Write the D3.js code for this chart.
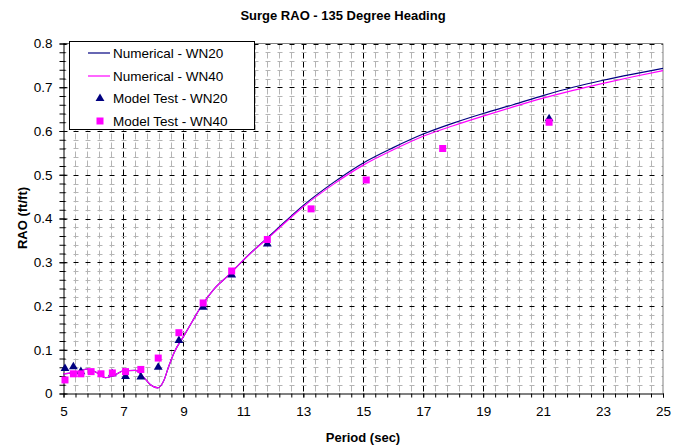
<!DOCTYPE html>
<html><head><meta charset="utf-8">
<script src="https://cdn.jsdelivr.net/npm/d3@7"></script>
<style>
body{margin:0;background:#fff;}
text{font-family:"Liberation Sans",Arial,sans-serif;}
</style></head>
<body><svg id="c" width="687" height="448"></svg>
<script>
// ---- data ----
const numPeriods = [5, 5.5, 5.8, 6.1, 6.4, 6.7, 7.0, 7.4, 7.7, 7.9, 8.15, 8.35, 8.5, 8.7, 9.0, 9.3, 9.6, 10, 10.5, 11, 12, 13, 14, 15, 16, 17, 18, 19, 20, 21, 22, 23, 24, 25];
const numWN20 = [0.045, 0.05, 0.056, 0.048, 0.036, 0.042, 0.052, 0.053, 0.035, 0.02, 0.013, 0.03, 0.06, 0.095, 0.13, 0.165, 0.2, 0.237, 0.27, 0.305, 0.368, 0.43, 0.482, 0.527, 0.562, 0.593, 0.618, 0.64, 0.66, 0.681, 0.70, 0.716, 0.73, 0.743];
const numWN40 = [0.045, 0.05, 0.056, 0.048, 0.036, 0.042, 0.052, 0.053, 0.035, 0.02, 0.013, 0.03, 0.06, 0.095, 0.13, 0.165, 0.2, 0.237, 0.27, 0.305, 0.366, 0.427, 0.478, 0.522, 0.557, 0.588, 0.612, 0.634, 0.655, 0.675, 0.693, 0.709, 0.724, 0.738];
const testWN20T = [5.05, 5.33, 5.58, 6.63, 7.07, 7.58, 8.16, 8.85, 9.66, 10.61, 11.8, 21.2];
const testWN20V = [0.057, 0.061, 0.05, 0.045, 0.039, 0.038, 0.06, 0.121, 0.197, 0.271, 0.342, 0.628];
const testWN40T = [5.05, 5.33, 5.58, 5.92, 6.25, 6.63, 7.07, 7.58, 8.16, 8.85, 9.66, 10.61, 11.8, 13.26, 15.1, 17.65, 21.2];
const testWN40V = [0.031, 0.045, 0.045, 0.05, 0.045, 0.047, 0.05, 0.055, 0.081, 0.139, 0.207, 0.28, 0.352, 0.422, 0.488, 0.56, 0.62];
const xTicks = [5, 7, 9, 11, 13, 15, 17, 19, 21, 23, 25];
const yTicks = [0, 0.1, 0.2, 0.3, 0.4, 0.5, 0.6, 0.7, 0.8];
const legendLabels = ["Numerical - WN20", "Numerical - WN40", "Model Test - WN20", "Model Test - WN40"];
const colors = {wn20: "#000080", wn40: "#ff00ff"};

const svg = d3.select("#c");
const L = 63.5, R = 663, T = 43.5, B = 393.5;
const x = d3.scaleLinear().domain([5, 25]).range([L, R]);
const y = d3.scaleLinear().domain([0, 0.8]).range([B, T]);

// grid
const g = svg.append("g");
const xMinor = d3.range(0, 51).map(i => 5 + i * 0.4);
const yMinor = d3.range(0, 41).map(i => i * 0.02);
xMinor.forEach((v, i) => {
  if (i === 0 || i === 50) return;
  const major = i % 5 === 0;
  g.append("line").attr("x1", Math.round(x(v)) + 0.5).attr("x2", Math.round(x(v)) + 0.5)
    .attr("y1", T).attr("y2", B)
    .attr("stroke", major ? "#000" : "#b4b4b4").attr("stroke-width", 1)
    .attr("stroke-dasharray", "6,3");
});
yMinor.forEach((v, i) => {
  if (i === 0) return;
  const major = i % 5 === 0;
  g.append("line").attr("y1", Math.round(y(v)) + 0.5).attr("y2", Math.round(y(v)) + 0.5)
    .attr("x1", L).attr("x2", R)
    .attr("stroke", major ? "#000" : "#b4b4b4").attr("stroke-width", 1)
    .attr("stroke-dasharray", "5,7").attr("stroke-dashoffset", 2);
});
// plot border (top/right gray)
svg.append("path").attr("d", `M${L},${T}H${R}V${B}`).attr("fill", "none").attr("stroke", "#808080");

// axes
const xAxis = svg.append("g").attr("transform", `translate(0,${B})`)
  .call(d3.axisBottom(x).tickValues(xTicks).tickFormat(d3.format("d")).tickSize(4).tickPadding(9));
svg.append("g").attr("transform", `translate(0,${B})`)
  .call(d3.axisBottom(x).tickValues(xMinor).tickFormat("").tickSize(4))
  .call(a => a.select(".domain").remove());
const yAxis = svg.append("g").attr("transform", `translate(${L},0)`)
  .call(d3.axisLeft(y).tickValues(yTicks).tickFormat(d => d === 0 ? "0" : d3.format(".1f")(d)).tickSize(4).tickPadding(7));
yAxis.selectAll(".tick line").attr("x2", 4).attr("x1", -4);
svg.append("g").attr("transform", `translate(${L},0)`)
  .call(d3.axisLeft(y).tickValues(yMinor).tickFormat("").tickSize(4))
  .call(a => a.select(".domain").remove())
  .selectAll(".tick line").attr("x1", -4).attr("x2", 2);
svg.selectAll(".domain").attr("stroke", "#000");
xAxis.select(".domain").attr("d", `M${L},0.5H${R}`);
yAxis.select(".domain").attr("d", `M0.5,${T}V${B}`);
svg.selectAll(".tick text").attr("font-family", "Liberation Sans, Arial, sans-serif").attr("font-size", 13.5).attr("fill", "#000");
svg.selectAll(".tick line").attr("stroke", "#000");

// lines
const line = d3.line().curve(d3.curveMonotoneX);
svg.append("path").attr("d", line(numPeriods.map((p, i) => [x(p), y(numWN20[i])])))
  .attr("fill", "none").attr("stroke", colors.wn20).attr("stroke-width", 1.2);
svg.append("path").attr("d", line(numPeriods.map((p, i) => [x(p), y(numWN40[i])])))
  .attr("fill", "none").attr("stroke", colors.wn40).attr("stroke-width", 1.2);

// markers
const tri = d3.symbol().type(d3.symbolTriangle).size(34);
svg.append("g").selectAll("path").data(testWN20T).join("path")
  .attr("d", tri).attr("transform", (d, i) => `translate(${x(d)},${y(testWN20V[i])})`)
  .attr("fill", colors.wn20);
svg.append("g").selectAll("rect").data(testWN40T).join("rect")
  .attr("x", d => x(d) - 3.5).attr("y", (d, i) => y(testWN40V[i]) - 3.5)
  .attr("width", 7).attr("height", 7).attr("fill", colors.wn40);

// legend
const lg = svg.append("g");
lg.append("rect").attr("x", 69.5).attr("y", 41.5).attr("width", 185).attr("height", 88)
  .attr("fill", "#fff").attr("stroke", "#000");
const ly = [53, 76, 98.5, 121];
legendLabels.forEach((t, i) => {
  if (i < 2) {
    lg.append("line").attr("x1", 88).attr("x2", 110).attr("y1", ly[i]).attr("y2", ly[i])
      .attr("stroke", i === 0 ? colors.wn20 : colors.wn40).attr("stroke-width", 1.2);
  } else if (i === 2) {
    lg.append("path").attr("d", tri).attr("transform", `translate(100,${ly[i]})`).attr("fill", colors.wn20);
  } else {
    lg.append("rect").attr("x", 96.5).attr("y", ly[i] - 3.5).attr("width", 7).attr("height", 7).attr("fill", colors.wn40);
  }
  lg.append("text").attr("x", 113).attr("y", ly[i]).attr("dy", "0.35em")
    .attr("font-size", 13.5).text(t);
});

// titles
svg.append("text").attr("x", 343).attr("y", 15).attr("dy", "0.35em").attr("text-anchor", "middle")
  .attr("font-size", 13).attr("font-weight", "bold").text("Surge RAO - 135 Degree Heading");
svg.append("text").attr("x", 363).attr("y", 437).attr("dy", "0.35em").attr("text-anchor", "middle")
  .attr("font-size", 13).attr("font-weight", "bold").text("Period (sec)");
svg.append("text").attr("transform", "translate(22,218) rotate(-90)").attr("dy", "0.35em").attr("text-anchor", "middle")
  .attr("font-size", 13).attr("font-weight", "bold").text("RAO (ft/ft)");
</script></body></html>
